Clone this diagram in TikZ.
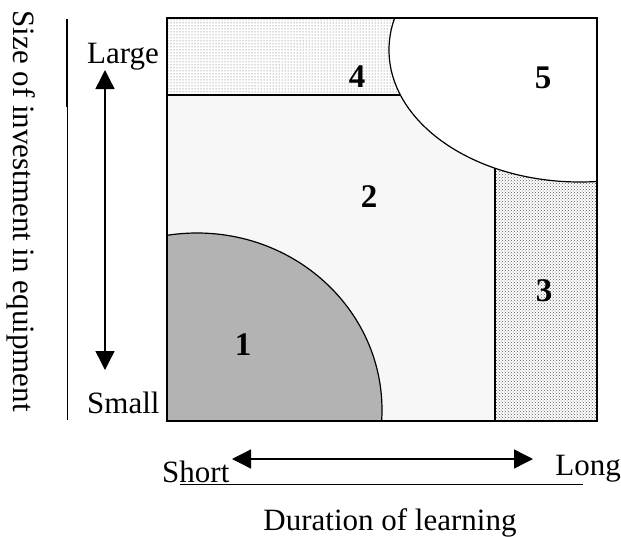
\documentclass[tikz,border=0pt]{standalone}
\usepackage{fontspec}
\setmainfont{Liberation Serif}
\usetikzlibrary{arrows.meta,patterns}
\definecolor{zonelight}{RGB}{247,247,247}
\definecolor{zonegray}{RGB}{179,179,179}
\definecolor{dotgray}{RGB}{90,90,90}

\begin{document}
\begin{tikzpicture}[x=1pt, y=-1pt,
  font=\fontsize{31}{36}\selectfont,
  lbl/.style={inner sep=0pt},
  num/.style={inner sep=0pt, font=\fontsize{33}{38}\selectfont\bfseries},
  ar/.style={line width=1.4pt, {Triangle[length=19pt,width=19pt]}-{Triangle[length=19pt,width=19pt]}},
  edge/.style={line width=1.2pt}
]
\useasboundingbox (0,0) rectangle (621,536);

% square and its zones
\coordinate (sqtl) at (167,18);
\coordinate (sqbr) at (597,421);
\fill[zonelight] (sqtl) rectangle (sqbr);
\fill[white] (167,18) rectangle (470,95);
\draw[edge, pattern=dots, pattern color=dotgray] (167,18) rectangle (470,95);
\fill[white] (495,95) rectangle (597,421);
\draw[edge, pattern=crosshatch dots, pattern color=dotgray] (495,95) rectangle (597,421);
\begin{scope}
  \clip (sqtl) rectangle (sqbr);
  \filldraw[edge, fill=zonegray] (197,410) ellipse [x radius=185, y radius=177];
  \filldraw[edge, fill=white] (580,50) ellipse [x radius=191, y radius=132];
\end{scope}
\draw[line width=1.5pt] (sqtl) rectangle (sqbr);

\node[num] (z4) at (357,77) {4};
\node[num] (z5) at (543,78) {5};
\node[num] (z2) at (369,197) {2};
\node[num] (z3) at (544,291) {3};
\node[num] (z1) at (243,345) {1};

% vertical axis
\coordinate (ytop) at (67,19);
\coordinate (ymid) at (67,107);
\coordinate (ybot) at (67,420);
\draw[line width=2.2pt] (ytop) -- (ymid);
\draw[line width=1pt] (ymid) -- (ybot);
\node[lbl, rotate=-90, anchor=base] (ylab) at (13,211) {Size of investment in equipment};
\node[lbl, anchor=base west] (large) at (87,63) {Large};
\node[lbl, anchor=base west] (small) at (87,413) {Small};
\coordinate (vtop) at (105,70);
\coordinate (vbot) at (105,370);
\draw[ar] (vtop) -- (vbot);

% horizontal axis
\node[lbl, anchor=base west] (short) at (162,482) {Short};
\node[lbl, anchor=base east] (long) at (621,475) {Long};
\coordinate (hleft) at (232,459);
\coordinate (hright) at (533,459);
\draw[ar] (hleft) -- (hright);
\coordinate (ul) at (180,484);
\coordinate (ur) at (583,484);
\draw[line width=1pt] (ul) -- (ur);
\node[lbl, anchor=base] (xlab) at (390,530) {Duration of learning};
\end{tikzpicture}
\end{document}
